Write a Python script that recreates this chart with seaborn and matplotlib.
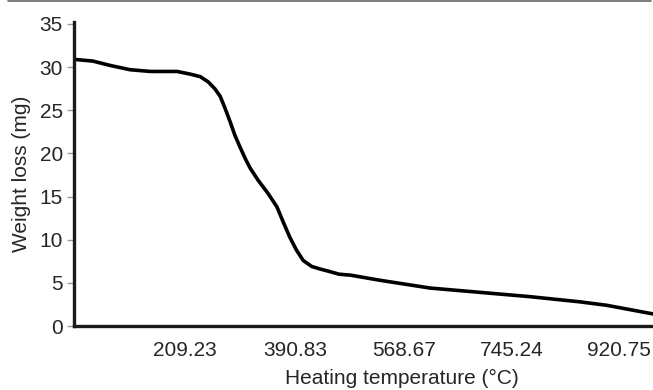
import matplotlib
matplotlib.use("Agg")
import matplotlib.pyplot as plt
import seaborn as sns
import pandas as pd
from matplotlib.lines import Line2D

# Data (temperature in °C, weight in mg)
temperature = [27, 58, 86, 119, 152, 196, 217, 234, 247, 258, 267, 275, 283,
               291, 299, 308, 316, 329, 345, 360, 370, 381, 392, 403, 417, 431,
               447, 462, 480, 529, 611, 693, 775, 857, 901, 939, 977]
weight = [30.9, 30.7, 30.2, 29.7, 29.5, 29.5, 29.2, 28.9, 28.3, 27.5, 26.6,
          25.2, 23.7, 22.1, 20.8, 19.4, 18.3, 16.9, 15.4, 13.8, 12.1, 10.3,
          8.8, 7.6, 6.9, 6.6, 6.3, 6.0, 5.9, 5.3, 4.4, 3.9, 3.4, 2.8, 2.4,
          1.9, 1.4]
xtick_values = [209.23, 390.83, 568.67, 745.24, 920.75]
ytick_values = [0, 5, 10, 15, 20, 25, 30, 35]

df = pd.DataFrame({"Heating temperature (°C)": temperature,
                   "Weight loss (mg)": weight})

sns.set_theme(style="white")
plt.rcParams["font.family"] = ["Liberation Sans", "DejaVu Sans"]

fig = plt.figure(figsize=(6.53, 3.90), dpi=100)
ax = fig.add_axes([74 / 653, (390 - 326) / 390, 1 - 74 / 653, (326 - 22) / 390])

sns.lineplot(data=df, x="Heating temperature (°C)", y="Weight loss (mg)",
             ax=ax, color="black", linewidth=2.6, sort=False, estimator=None)
ax.lines[0].set_solid_joinstyle("round")
ax.lines[0].set_solid_capstyle("round")

ax.set_xlim(27, 977)
ax.set_ylim(0, 35.23)
ax.set_xticks(xtick_values)
ax.set_xticklabels([f"{v:.2f}" for v in xtick_values])
ax.set_yticks(ytick_values)

text_color = "#262626"
fs = 15
ax.tick_params(axis="x", length=0, pad=11, labelsize=fs, labelcolor=text_color)
ax.tick_params(axis="y", length=5, width=1, color="#999999", pad=3,
               labelsize=fs, labelcolor=text_color, left=True)
ax.set_xlabel("Heating temperature (°C)", fontsize=fs, color=text_color)
ax.xaxis.set_label_coords((402 - 74) / 579, -0.14)
ax.set_ylabel("Weight loss (mg)", fontsize=fs, color=text_color, labelpad=6)

for side in ["top", "right"]:
    ax.spines[side].set_visible(False)
for side in ["left", "bottom"]:
    ax.spines[side].set_linewidth(2.4)
    ax.spines[side].set_color("#1a1a1a")

# thin grey rule along the top edge of the picture
fig.add_artist(Line2D([8 / 653, 651 / 653], [389.2 / 390, 389.2 / 390],
                      color="#666666", linewidth=1.2, transform=fig.transFigure))

fig.savefig("out.png", dpi=100)
